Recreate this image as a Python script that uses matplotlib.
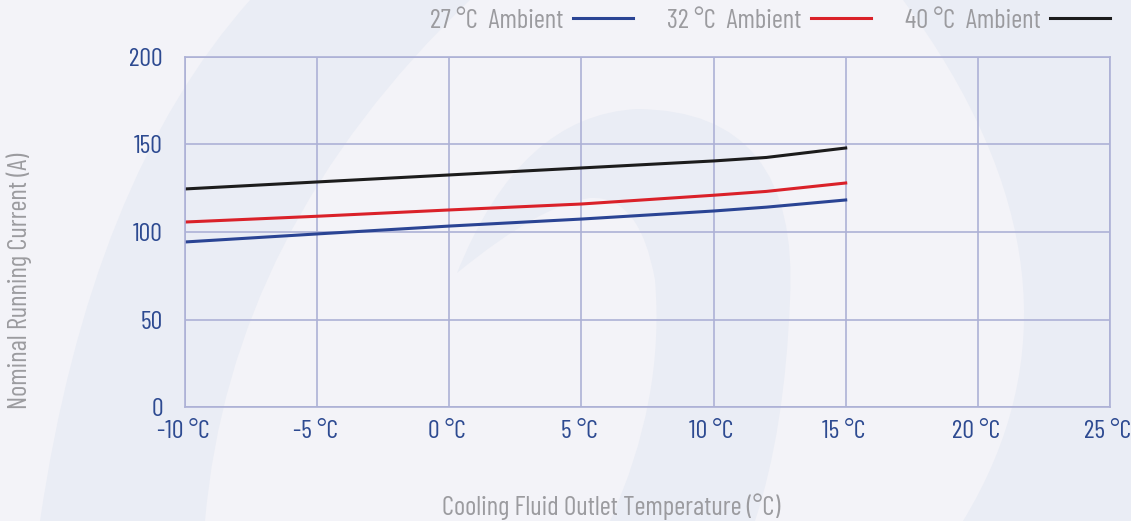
import matplotlib
matplotlib.use("Agg")
import matplotlib.pyplot as plt
from matplotlib.path import Path
from matplotlib.patches import PathPatch
from matplotlib.transforms import ScaledTranslation

plt.rcParams['font.family'] = ['Barlow Condensed', 'DejaVu Sans']

# data
temps = [-10, -5, 0, 5, 10, 12, 15]
amb27 = [94.3, 98.9, 103.4, 107.4, 112.0, 114.2, 118.3]
amb32 = [105.7, 109.0, 112.6, 116.0, 121.0, 123.2, 128.0]
amb40 = [124.6, 128.6, 132.6, 136.6, 140.6, 142.6, 148.0]
series_names = ['27 °C  Ambient', '32 °C  Ambient', '40 °C  Ambient']
xticks = [-10, -5, 0, 5, 10, 15, 20, 25]
yticks = [0, 50, 100, 150, 200]

bg = '#f3f3f8'
dark = '#eaedf5'
grid_col = '#adb1d6'
tick_col = '#2d4a91'
label_col = '#9b9b9f'

fig = plt.figure(figsize=(11.31, 5.21), dpi=100, facecolor=bg)

# faint background swirl (decoration only)
deco = fig.add_axes([0, 0, 1, 1], zorder=0)
deco.set_xlim(0, 1131)
deco.set_ylim(521, 0)
deco.axis('off')
M, C, L, Z = Path.MOVETO, Path.CURVE3, Path.LINETO, Path.CLOSEPOLY
band = Path([(40, 521), (90, 180), (250, 0), (470, 0), (230, 230), (205, 521), (40, 521)],
            [M, C, C, L, C, C, Z])
tongue = Path([(457, 273), (520, 115), (637, 109), (800, 110), (790, 300), (785, 430), (755, 521),
               (610, 521), (665, 400), (655, 280), (640, 195), (590, 198), (540, 205), (457, 273),
               (457, 273)],
              [M, C, C, C, C, C, C, L, C, C, C, C, C, C, Z])
right = Path([(903, 0), (1110, 280), (963, 521), (1131, 521), (1131, 0), (903, 0)],
             [M, C, C, L, L, Z])
for p in (band, tongue, right):
    deco.add_patch(PathPatch(p, facecolor=dark, edgecolor='none'))

ax = fig.add_axes([0.1636, 0.2188, 0.8178, 0.6718], zorder=1)
ax.patch.set_alpha(0)

ax.plot(temps, amb27, color='#2a4494', lw=2.2, label=series_names[0])
ax.plot(temps, amb32, color='#da2129', lw=2.2, label=series_names[1])
ax.plot(temps, amb40, color='#1c1c1c', lw=2.2, label=series_names[2])

ax.set_xlim(-10, 25)
ax.set_ylim(0, 200)
ax.set_xticks(xticks)
ax.set_xticklabels([f'{t} °C' for t in xticks])
ax.set_yticks(yticks)
ax.grid(True, color=grid_col, lw=1.2)
ax.set_axisbelow(True)
for s in ax.spines.values():
    s.set_color(grid_col)
    s.set_linewidth(1.2)
ax.tick_params(length=0, colors=tick_col, labelsize=18.7)
ax.tick_params(axis='x', pad=9)
ax.tick_params(axis='y', pad=16)
shift = ScaledTranslation(-2 / 100, 0, fig.dpi_scale_trans)
for lab in ax.get_xticklabels():
    lab.set_transform(lab.get_transform() + shift)

fig.text(611 / 1131, 1 - 507 / 521, 'Cooling Fluid Outlet Temperature (°C)', color=label_col,
         fontsize=19.3, ha='center', va='center')
fig.text(19 / 1131, 1 - 281 / 521, 'Nominal Running Current (A)', color=label_col,
         fontsize=19.3, ha='center', va='center', rotation=90)

ax.legend(loc='center right', bbox_to_anchor=(1.0, 1.104), ncol=3, frameon=False,
          markerfirst=False, fontsize=19.3, labelcolor=label_col, handlelength=2.25,
          handletextpad=0.35, columnspacing=1.25, borderaxespad=0, borderpad=0)

fig.savefig('out.png', dpi=100, facecolor=bg)
